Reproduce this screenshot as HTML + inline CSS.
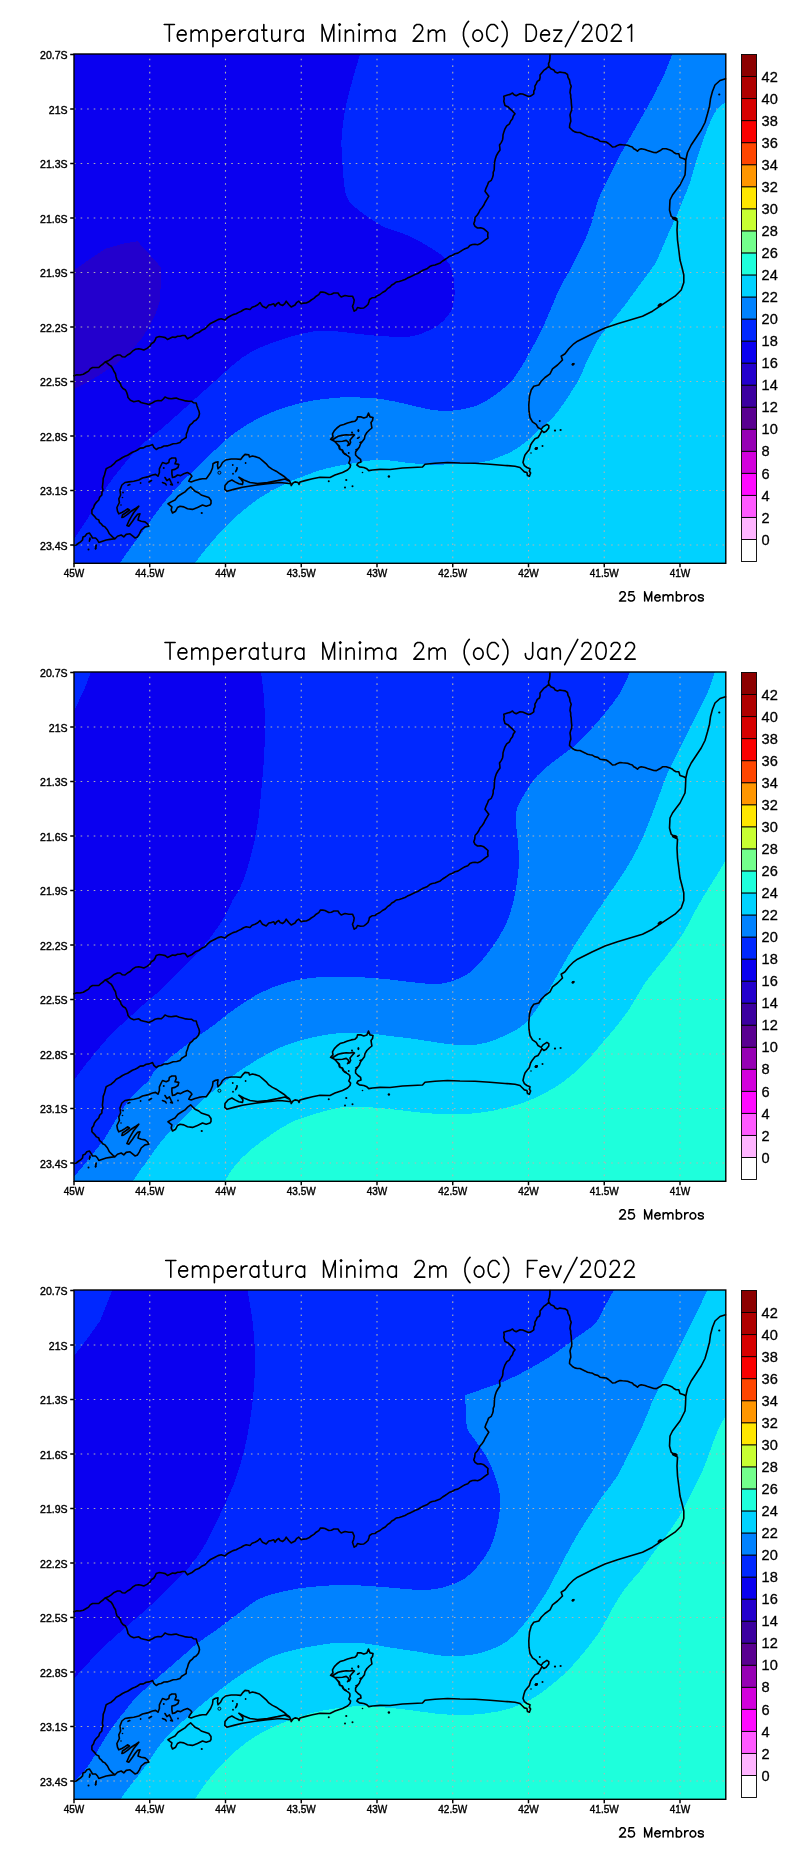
<!DOCTYPE html>
<html><head><meta charset="utf-8"><title>Temperatura Minima 2m</title>
<style>
html,body{margin:0;padding:0;background:#fff;}
body{width:800px;height:1854px;overflow:hidden;font-family:"Liberation Sans",sans-serif;}
svg{display:block;}
text{font-family:"Liberation Sans",sans-serif;fill:#000;}
.tx{filter:grayscale(1);}
.al{font-size:11px;stroke:#000;stroke-width:0.42px;}
.cl{font-size:14.6px;stroke:#000;stroke-width:0.3px;}
</style></head><body>
<svg width="800" height="1854" viewBox="0 0 800 1854"><defs><g id="map"><path d="M74.0 375.8 L76.9 374.8 L80.0 375.0 L83.3 374.2 L86.2 372.5 L88.6 371.1 L90.2 368.9 L92.5 367.5 L95.6 367.5 L98.8 367.5 L100.8 365.6 L103.1 364.0 L105.0 362.0 L108.3 360.8 L111.2 358.8 L114.1 356.4 L117.5 355.0 L120.2 355.0 L122.4 356.8 L125.0 357.0 L127.4 355.0 L130.2 353.5 L132.5 351.2 L135.3 349.3 L138.8 348.8 L141.3 349.3 L143.8 350.0 L147.0 348.4 L150.0 346.2 L151.2 343.8 L153.7 342.3 L155.2 340.0 L156.2 337.5 L159.3 336.5 L162.5 337.0 L165.3 337.6 L167.5 339.5 L170.0 338.3 L172.5 337.0 L175.1 337.4 L177.5 336.3 L180.0 336.2 L182.4 335.5 L185.0 335.5 L187.5 338.8 L189.9 337.4 L192.5 336.2 L195.3 333.8 L198.8 332.5 L201.7 330.3 L205.0 328.8 L207.4 326.2 L210.0 323.8 L212.5 322.5 L215.0 321.2 L218.0 319.6 L221.2 318.8 L225.0 320.0 L227.3 317.8 L230.0 316.2 L233.0 314.6 L236.2 313.8 L238.7 312.4 L241.2 311.2 L243.6 309.7 L246.2 308.8 L250.0 309.5 L252.1 307.3 L255.0 306.2 L257.8 304.8 L260.0 302.5 L261.2 304.4 L262.5 306.2 L266.2 308.0 L268.8 305.0 L271.3 304.6 L273.8 303.8 L275.0 306.2 L276.5 304.0 L278.8 302.5 L280.2 304.6 L282.5 305.5 L284.8 303.7 L286.2 301.2 L288.8 304.5 L291.2 307.0 L295.0 305.0 L296.5 302.7 L298.8 301.2 L301.2 303.8 L303.7 303.1 L306.2 303.0 L308.9 301.8 L311.2 300.0 L313.9 298.4 L316.2 296.2 L318.8 294.6 L320.5 292.0 L322.8 292.1 L325.0 292.5 L328.8 294.5 L331.4 294.2 L333.8 293.0 L338.0 293.0 L339.4 295.2 L341.2 297.0 L345.0 295.5 L348.8 296.2 L352.5 296.2 L354.2 300.0 L353.7 303.2 L352.5 306.2 L353.3 308.8 L354.2 311.2 L356.3 309.8 L357.5 307.5 L360.6 308.3 L363.8 308.0 L365.9 306.3 L368.0 304.5 L368.9 302.0 L369.5 299.5 L372.0 297.8 L375.0 297.5 L377.3 295.7 L380.0 294.5 L382.5 292.5 L385.3 291.0 L387.4 288.7 L390.0 287.0 L391.8 285.0 L394.2 283.7 L396.2 282.0 L399.3 281.5 L402.2 280.6 L405.0 279.5 L407.4 278.1 L410.0 276.9 L412.5 275.8 L415.0 274.5 L417.7 273.6 L420.0 272.0 L422.4 270.6 L425.0 269.5 L427.5 268.4 L429.7 266.6 L432.2 265.5 L435.0 265.0 L437.6 263.9 L440.3 262.9 L442.6 261.0 L445.0 259.5 L447.4 257.9 L449.8 256.2 L452.5 255.2 L455.0 253.8 L457.8 253.1 L460.2 251.6 L462.5 250.1 L465.0 248.8 L467.8 247.8 L469.8 245.6 L472.5 244.5 L475.0 244.3 L477.6 244.7 L480.0 243.8 L482.7 241.9 L485.3 239.9 L488.0 238.0 L487.7 235.2 L488.0 232.5 L485.9 230.6 L483.8 228.8 L480.7 227.7 L477.5 228.0 L475.1 226.4 L473.8 223.8 L474.8 220.7 L475.0 217.5 L477.1 215.3 L478.8 212.8 L480.0 210.0 L482.0 207.7 L483.7 205.3 L485.0 202.5 L486.9 199.4 L488.8 196.2 L486.9 193.7 L485.0 191.2 L486.1 188.1 L487.5 185.0 L488.6 182.1 L491.3 180.3 L492.5 177.5 L493.2 175.0 L493.2 172.4 L494.2 170.0 L494.3 167.5 L494.4 165.0 L494.5 162.5 L495.2 159.3 L496.2 156.2 L497.9 153.0 L500.0 150.0 L499.8 147.5 L499.5 145.0 L501.2 142.6 L502.5 140.0 L502.9 137.5 L503.0 135.0 L503.9 131.9 L505.0 128.8 L506.7 125.8 L509.5 123.8 L510.7 121.0 L512.5 118.8 L513.3 116.0 L515.0 113.8 L512.6 111.2 L510.0 108.8 L507.8 106.7 L505.0 105.5 L503.8 101.2 L504.2 98.8 L503.8 96.2 L507.5 95.0 L510.2 94.4 L512.5 93.0 L514.1 94.8 L516.2 95.8 L520.0 93.8 L522.6 94.0 L525.0 95.0 L527.4 96.1 L530.0 96.2 L532.0 95.2 L533.8 93.8 L533.8 91.1 L535.0 88.8 L534.9 86.1 L536.2 83.8 L537.3 81.4 L539.5 80.0 L540.1 77.5 L540.0 75.0 L542.5 72.0 L544.1 70.1 L546.2 68.8 L548.8 66.2 L548.5 63.7 L549.5 61.2 L549.9 57.9 L550.0 54.5 M548.8 66.2 L550.8 68.7 L553.8 70.0 L555.2 72.0 L557.5 73.0 L559.9 72.1 L562.5 72.5 L565.2 72.9 L567.5 74.5 L568.0 77.4 L569.5 80.0 L570.0 83.2 L571.2 86.2 L570.4 89.3 L570.0 92.5 L570.7 95.0 L570.7 97.5 L571.2 100.0 L571.3 102.5 L571.5 105.0 L571.8 107.5 L571.7 110.1 L570.7 112.5 L570.0 115.0 L570.5 118.1 L570.8 121.2 L569.8 124.3 L569.5 127.5 L572.5 130.5 L574.8 131.9 L577.3 132.5 L580.0 132.5 L582.5 133.8 L585.0 134.9 L587.5 136.2 L590.1 136.8 L592.7 137.3 L595.0 138.8 L597.8 139.4 L600.0 141.2 L603.1 141.6 L606.2 142.0 L608.5 143.5 L610.5 145.2 L612.5 147.0 L615.2 146.7 L617.5 145.4 L620.0 144.5 L622.5 144.8 L625.0 145.0 L627.6 145.2 L630.0 146.2 L632.3 146.9 L633.8 148.8 L635.8 149.8 L637.5 151.2 L639.1 149.5 L641.2 148.8 L645.0 149.5 L647.5 150.4 L650.0 151.2 L653.8 152.5 L656.4 152.6 L658.8 151.2 L660.8 150.2 L662.5 148.8 L666.2 148.8 L670.0 150.0 L672.1 150.9 L673.8 152.5 L676.1 153.7 L678.8 153.8 L680.0 157.5 L683.8 158.8 L685.8 160.0 M725.5 78.8 L720.0 80.5 L715.0 85.0 L712.5 91.2 L710.5 98.8 L709.5 106.2 L707.5 113.8 L705.0 122.5 L701.2 130.0 L696.2 137.5 L691.2 145.0 L687.5 152.5 L685.8 160.0 L685.5 168.8 L685.0 175.0 L682.5 180.0 L680.0 185.0 L676.2 190.0 L672.5 195.0 L670.0 200.0 L669.5 210.0 L671.2 216.2 L675.0 219.5 L677.5 221.2 L677.0 230.0 L677.5 240.0 L678.8 250.0 L680.0 260.0 L682.0 267.5 L683.8 275.0 L683.8 282.5 L681.2 290.0 L675.0 296.2 L667.5 301.2 L660.0 306.2 L652.5 311.2 L642.5 316.2 L630.0 320.0 L617.5 323.8 L605.0 328.0 L592.5 333.8 L582.5 338.8 L577.5 341.2 L573.8 343.8 L568.8 348.8 L565.0 353.8 L561.2 356.2 L562.5 360.0 L557.5 365.0 L552.5 368.8 L550.0 373.8 L545.0 377.5 L541.2 381.2 L538.8 385.0 L533.8 386.2 L531.2 390.0 L529.5 396.2 L528.8 405.0 L529.0 411.2 L530.0 417.5 L532.5 421.9 L536.2 424.4 L538.0 427.5 L541.2 429.4 L543.0 426.9 L546.9 424.4 L548.8 425.6 L548.8 428.0 L546.2 431.2 L543.8 432.5 L541.9 430.6 L540.0 434.4 L538.0 437.5 L535.0 438.8 L532.5 441.9 L530.6 445.0 L529.4 449.4 L526.9 452.5 L525.0 455.0 L523.8 458.8 L523.0 462.5 L524.4 465.6 L526.9 467.5 L530.0 468.8 L529.4 471.2 L530.6 473.0 L529.4 476.2 L527.5 475.6 L526.9 472.5 L524.4 471.9 L522.5 470.0 L520.0 467.5 L515.0 466.2 L507.5 465.6 L505.0 465.5 L490.0 464.2 L475.0 463.2 L460.0 463.0 L447.5 462.5 L435.0 463.2 L425.0 464.2 L422.5 467.0 L412.5 467.5 L402.5 468.0 L390.0 469.5 L380.0 469.4 L372.5 470.0 L368.8 470.6 L366.9 468.8 L363.8 467.5 L359.4 466.9 L356.9 465.0 L358.0 463.0 L361.0 461.9 L360.6 459.4 L358.0 457.5 L355.6 455.0 L355.6 451.9 L357.5 449.4 L359.4 446.9 L360.6 443.8 L362.5 441.2 L364.4 438.8 L365.0 435.6 L366.9 432.5 L369.4 430.0 L371.9 428.0 L371.5 425.6 L371.0 422.5 L372.5 420.6 L373.0 417.5 L370.0 416.9 L368.5 413.0 L366.9 416.9 L363.8 418.0 L361.2 416.9 L357.5 416.9 L356.9 419.4 L355.0 421.2 L351.2 421.9 L347.5 423.0 L343.8 424.4 L340.0 425.6 L336.9 428.0 L334.4 430.6 L332.5 433.8 L333.0 436.9 L330.6 439.4 L334.4 441.2 L336.9 443.8 L338.8 446.2 L339.4 448.8 L341.9 450.0 L343.0 452.5 L345.0 454.4 L347.5 455.6 L349.8 457.5 L350.0 460.0 L348.8 463.0 L350.6 465.0 L350.0 467.5 L347.5 470.0 L342.5 472.5 L335.0 475.0 L330.0 477.5 L320.0 477.2 L312.5 478.8 L305.0 480.6 L300.0 481.9 L299.0 484.4 L298.0 482.5 L295.0 481.9 L293.0 483.0 L291.2 485.6 L290.6 483.0 L289.4 480.6 L286.9 478.8 L283.8 476.2 L280.0 473.8 L276.2 471.2 L272.5 469.4 L268.8 466.9 L266.2 463.8 L262.5 460.6 L259.4 458.0 L256.2 456.9 L252.5 456.0 L249.4 456.9 L248.8 454.8 L245.0 454.4 L242.5 456.9 L240.6 459.4 L236.2 459.0 L231.2 459.0 L225.6 460.0 L222.5 462.5 L220.6 466.2 L218.0 468.8 L217.5 465.6 L218.0 461.9 L215.6 462.2 L213.0 463.8 L212.5 468.0 L210.6 472.5 L207.5 477.0 L206.2 478.8 L202.5 478.8 L198.8 479.4 L195.0 480.6 L191.2 481.9 L188.8 481.2 L190.0 478.8 L191.9 476.2 L190.6 474.4 L187.5 472.5 L183.8 473.8 L180.6 475.6 L177.5 475.0 L175.0 476.9 L172.5 477.5 L171.9 473.8 L171.9 470.0 L175.0 469.4 L178.0 467.5 L178.8 464.4 L175.0 463.8 L176.2 460.6 L175.6 458.0 L171.9 458.0 L169.4 459.4 L168.8 462.5 L166.2 463.8 L162.5 462.5 L161.2 465.0 L159.4 468.8 L159.4 472.5 L158.0 476.2 L155.6 474.4 L152.5 475.0 L147.5 476.9 L142.5 478.0 L138.8 480.0 L133.8 481.2 L128.8 481.9 L125.0 482.5 L121.9 485.0 L120.0 490.0 L120.6 495.0 L118.8 498.8 L119.4 502.5 L116.9 507.5 L117.5 511.2 L118.8 513.8 L121.9 512.5 L125.0 510.6 L127.5 508.8 L129.4 510.0 L126.2 512.5 L122.5 515.0 L121.9 517.5 L123.8 516.9 L127.5 514.4 L131.2 511.2 L135.0 508.8 L138.8 506.2 L136.9 508.8 L133.8 512.5 L131.2 516.9 L128.8 521.2 L126.9 525.6 L128.8 526.2 L132.5 521.2 L135.0 517.5 L137.5 514.4 L140.0 513.8 L138.8 516.9 L138.0 520.0 L141.2 521.2 L145.0 521.9 L147.5 523.8 L148.8 526.2 L145.0 526.9 L141.2 530.0 L139.4 533.8 L137.5 536.9 L135.0 538.0 L133.8 536.9 L130.0 533.8 L126.2 534.4 L123.8 536.9 L121.2 535.0 L117.5 536.2 L115.0 538.8 L110.0 539.4 L106.2 540.0 L102.5 541.2 L98.8 542.5 L97.5 540.0 L95.6 538.0 L92.5 538.0 L91.2 535.6 L89.4 533.0 L86.9 533.8 L85.0 536.2 L83.0 536.9 L82.5 540.0 L80.6 541.9 L78.8 543.0 L76.2 545.0 L74.0 545.6 M105.0 362.0 L107.3 363.1 L109.1 364.9 L111.2 366.2 L112.8 368.7 L113.9 371.3 L115.5 373.8 L116.1 376.9 L117.0 380.0 L119.0 381.7 L120.4 383.8 L121.2 386.2 L123.0 388.5 L125.5 390.0 L126.7 392.4 L127.5 394.9 L128.0 397.5 L130.4 400.2 L133.8 401.8 L136.2 401.2 L138.8 400.8 L141.0 402.5 L143.8 403.2 L146.3 403.8 L148.8 404.5 L152.0 403.1 L155.0 401.2 L158.1 400.5 L161.2 400.8 L163.3 399.0 L165.0 397.0 L168.0 398.4 L171.2 398.8 L173.8 398.4 L176.2 398.0 L179.3 399.3 L182.5 400.0 L185.6 400.9 L188.8 401.2 L191.4 401.2 L193.7 402.8 L196.2 403.0 L197.0 405.9 L198.0 408.8 L199.0 411.2 L199.5 413.8 L198.5 417.2 L196.2 420.0 L193.8 421.2 L192.1 423.4 L190.0 425.0 L188.4 428.0 L187.5 431.2 L186.3 434.3 L186.2 437.5 L184.0 438.9 L181.7 440.3 L180.0 442.5 L176.7 443.5 L173.2 443.7 L170.0 445.0 L167.1 445.9 L164.0 446.0 L161.2 447.5 L158.5 448.0 L156.2 449.5 L153.9 447.4 L152.5 444.5 L149.5 445.9 L146.2 446.2 L143.5 447.9 L140.1 448.1 L137.5 450.0 L135.0 451.3 L132.4 452.3 L130.0 453.8 L127.6 455.3 L125.0 456.2 L122.5 457.5 L119.5 459.5 L116.2 461.2 L113.9 463.9 L111.2 466.2 L108.7 467.4 L106.2 468.8 L105.3 471.8 L104.5 475.0 L103.2 478.4 L103.0 482.0 L102.7 484.7 L102.4 487.3 L103.0 490.0 L101.9 492.4 L101.9 495.0 L99.7 497.1 L98.8 500.0 L96.4 502.3 L94.4 505.0 L93.6 507.7 L91.9 510.0 L91.9 513.8 L95.0 516.9 L96.5 518.9 L98.8 520.0 L99.4 522.3 L101.2 523.8 L102.7 525.8 L105.0 526.9 L107.5 530.0 L109.4 533.8 L112.5 536.9 L115.0 538.8 M168.0 503.8 L171.2 501.9 L175.0 500.0 L178.0 496.2 L181.9 493.8 L185.0 491.9 L188.0 488.8 L190.6 486.9 L192.5 488.8 L195.0 491.2 L198.8 493.0 L201.2 495.0 L205.0 496.2 L208.8 497.5 L211.0 500.5 L211.0 503.5 L210.0 505.0 L206.2 506.2 L202.5 505.0 L197.5 507.5 L192.5 509.4 L187.5 508.8 L183.8 506.9 L180.0 506.2 L177.5 507.5 L175.6 511.2 L172.5 513.0 L171.2 510.0 L171.9 506.9 L168.0 503.8 M291.2 483.8 L280.0 482.5 L267.5 483.8 L255.0 485.2 L242.5 487.2 L233.8 489.4 L226.9 491.2 L224.8 489.4 L225.0 485.6 L228.0 481.9 L231.9 480.0 L235.0 481.9 L238.8 483.8 L242.5 484.4 L243.0 481.9 L240.6 478.8 L238.8 477.2 L243.8 480.0 L250.0 482.5 L257.5 483.5 L267.5 482.5 L277.5 480.6 L285.0 479.0 L289.0 481.0 M334.4 438.5 L338.1 436.2 L341.9 435.4 L346.2 434.8 L350.0 435.0 L353.1 434.4 L354.4 435.0 L351.9 437.8 L350.0 440.0 L350.6 442.5 L349.4 444.8 L347.5 445.6 L348.8 443.8 L348.1 441.9 L346.2 440.4 L342.5 441.2 L338.8 441.5 L334.4 441.2 L332.5 440.0 L334.4 438.5 M336.9 443.8 L339.4 446.2 L340.0 449.4 L342.5 450.0 L343.8 453.0 L346.2 454.4 M165.0 477.5 L166.9 480.6 L169.4 478.8 L171.2 482.5 L172.5 485.0 L170.6 484.4 M162.5 482.5 L165.6 483.8 L166.2 485.0 M149.0 482.0 L151.5 480.5 M128.0 485.3 L129.8 484.6 M90.0 538.0 L89.4 541.2 M96.2 545.0 L95.6 549.0" fill="none" stroke="#000" stroke-width="1.6" stroke-linejoin="round" stroke-linecap="round"/><g fill="#000"><circle cx="88.5" cy="549.4" r="1.0"/><circle cx="95.6" cy="548.2" r="1.0"/><circle cx="95.9" cy="546" r="0.8"/><circle cx="90" cy="539.5" r="0.8"/><circle cx="201.75" cy="513" r="1.1"/><circle cx="233" cy="473.75" r="0.9"/><circle cx="232.75" cy="465" r="0.9"/><circle cx="245.6" cy="463" r="0.9"/><circle cx="237" cy="468" r="1.0"/><circle cx="328.75" cy="481.25" r="1.0"/><circle cx="346.25" cy="480" r="1.1"/><circle cx="345" cy="487.5" r="1.0"/><circle cx="352.5" cy="486.25" r="1.0"/><circle cx="388.9" cy="476.5" r="1.2"/><circle cx="362.5" cy="472.5" r="0.8"/><circle cx="555" cy="430.6" r="1.1"/><circle cx="560.6" cy="430" r="1.1"/><circle cx="536.25" cy="448.5" r="1.5"/><circle cx="542.5" cy="446" r="1.0"/><circle cx="539.75" cy="421" r="1.0"/><circle cx="531" cy="453" r="0.8"/><circle cx="573" cy="364.25" r="1.3"/><circle cx="719.25" cy="94.5" r="1.1"/><circle cx="348.75" cy="453" r="0.9"/><circle cx="352" cy="432.5" r="1.0"/><circle cx="163.75" cy="468" r="1.0"/><circle cx="140.6" cy="483" r="0.9"/><circle cx="123" cy="492.5" r="0.9"/><circle cx="178" cy="482.5" r="0.9"/><circle cx="122.5" cy="497.5" r="0.8"/><circle cx="121" cy="505" r="0.8"/><ellipse cx="358.4" cy="430.6" rx="1.0" ry="1.7" transform="rotate(0 358.4 430.6)"/><ellipse cx="358.4" cy="437.8" rx="1.9" ry="0.9" transform="rotate(-30 358.4 437.8)"/><ellipse cx="360.6" cy="442.2" rx="1.5" ry="0.8" transform="rotate(-15 360.6 442.2)"/><ellipse cx="356.6" cy="449.4" rx="1.7" ry="0.8" transform="rotate(-20 356.6 449.4)"/><ellipse cx="236.3" cy="470.4" rx="2.3" ry="1.0" transform="rotate(-62 236.3 470.4)"/><ellipse cx="674.8" cy="218.6" rx="3.0" ry="1.7" transform="rotate(15 674.8 218.6)"/><ellipse cx="659.8" cy="305.0" rx="2.6" ry="1.5" transform="rotate(-35 659.8 305.0)"/><ellipse cx="573.2" cy="364.2" rx="1.8" ry="1.0" transform="rotate(-35 573.2 364.2)"/><ellipse cx="536.3" cy="448.4" rx="1.9" ry="1.2" transform="rotate(-25 536.3 448.4)"/></g><circle cx="219.4" cy="472.75" r="1.5" fill="none" stroke="#000" stroke-width="0.9"/></g><g id="grid"><path d="M149.75 563.3V54.0 M225.50 563.3V54.0 M301.25 563.3V54.0 M377.00 563.3V54.0 M452.75 563.3V54.0 M528.50 563.3V54.0 M604.25 563.3V54.0 M680.00 563.3V54.0" fill="none" stroke="#b6b4b0" stroke-opacity="0.95" stroke-dasharray="1.6 4.95" stroke-width="1.1" stroke-dashoffset="-5.16"/><path d="M74.0 109.04H725.8 M74.0 163.53H725.8 M74.0 218.02H725.8 M74.0 272.51H725.8 M74.0 327.00H725.8 M74.0 381.49H725.8 M74.0 435.98H725.8 M74.0 490.47H725.8 M74.0 544.96H725.8" fill="none" stroke="#b6b4b0" stroke-opacity="0.95" stroke-dasharray="1.6 4.95" stroke-width="1.1" stroke-dashoffset="-0.05"/></g><g id="axes"><rect x="74.0" y="54.0" width="651.8" height="509.29999999999995" fill="none" stroke="#000" stroke-width="1.4"/><path d="M74.00 563.3v4 M149.75 563.3v4 M225.50 563.3v4 M301.25 563.3v4 M377.00 563.3v4 M452.75 563.3v4 M528.50 563.3v4 M604.25 563.3v4 M680.00 563.3v4 M74.0 54.55h-3.8 M74.0 109.04h-3.8 M74.0 163.53h-3.8 M74.0 218.02h-3.8 M74.0 272.51h-3.8 M74.0 327.00h-3.8 M74.0 381.49h-3.8 M74.0 435.98h-3.8 M74.0 490.47h-3.8 M74.0 544.96h-3.8" stroke="#000" stroke-width="1.45" fill="none"/><g class="tx"><text transform="translate(74.00,577.1) scale(0.91,1)" text-anchor="middle" class="al">45W</text><text transform="translate(149.75,577.1) scale(0.91,1)" text-anchor="middle" class="al">44.5W</text><text transform="translate(225.50,577.1) scale(0.91,1)" text-anchor="middle" class="al">44W</text><text transform="translate(301.25,577.1) scale(0.91,1)" text-anchor="middle" class="al">43.5W</text><text transform="translate(377.00,577.1) scale(0.91,1)" text-anchor="middle" class="al">43W</text><text transform="translate(452.75,577.1) scale(0.91,1)" text-anchor="middle" class="al">42.5W</text><text transform="translate(528.50,577.1) scale(0.91,1)" text-anchor="middle" class="al">42W</text><text transform="translate(604.25,577.1) scale(0.91,1)" text-anchor="middle" class="al">41.5W</text><text transform="translate(680.00,577.1) scale(0.91,1)" text-anchor="middle" class="al">41W</text><text transform="translate(67.6,59.15) scale(0.96,1)" text-anchor="end" class="al">20.7S</text><text transform="translate(67.6,113.64) scale(0.96,1)" text-anchor="end" class="al">21S</text><text transform="translate(67.6,168.13) scale(0.96,1)" text-anchor="end" class="al">21.3S</text><text transform="translate(67.6,222.62) scale(0.96,1)" text-anchor="end" class="al">21.6S</text><text transform="translate(67.6,277.11) scale(0.96,1)" text-anchor="end" class="al">21.9S</text><text transform="translate(67.6,331.60) scale(0.96,1)" text-anchor="end" class="al">22.2S</text><text transform="translate(67.6,386.09) scale(0.96,1)" text-anchor="end" class="al">22.5S</text><text transform="translate(67.6,440.58) scale(0.96,1)" text-anchor="end" class="al">22.8S</text><text transform="translate(67.6,495.07) scale(0.96,1)" text-anchor="end" class="al">23.1S</text><text transform="translate(67.6,549.56) scale(0.96,1)" text-anchor="end" class="al">23.4S</text></g></g><g id="cbar"><rect x="741.5" y="539.46" width="15.0" height="22.04" fill="#ffffff" stroke="#000" stroke-width="0.9"/><rect x="741.5" y="517.41" width="15.0" height="22.04" fill="#ffb4ff" stroke="#000" stroke-width="0.9"/><rect x="741.5" y="495.37" width="15.0" height="22.04" fill="#ff5aff" stroke="#000" stroke-width="0.9"/><rect x="741.5" y="473.33" width="15.0" height="22.04" fill="#ff0aff" stroke="#000" stroke-width="0.9"/><rect x="741.5" y="451.28" width="15.0" height="22.04" fill="#d200dc" stroke="#000" stroke-width="0.9"/><rect x="741.5" y="429.24" width="15.0" height="22.04" fill="#9600b4" stroke="#000" stroke-width="0.9"/><rect x="741.5" y="407.20" width="15.0" height="22.04" fill="#5a0091" stroke="#000" stroke-width="0.9"/><rect x="741.5" y="385.15" width="15.0" height="22.04" fill="#3c00a0" stroke="#000" stroke-width="0.9"/><rect x="741.5" y="363.11" width="15.0" height="22.04" fill="#2300cd" stroke="#000" stroke-width="0.9"/><rect x="741.5" y="341.07" width="15.0" height="22.04" fill="#0a00f0" stroke="#000" stroke-width="0.9"/><rect x="741.5" y="319.02" width="15.0" height="22.04" fill="#0028ff" stroke="#000" stroke-width="0.9"/><rect x="741.5" y="296.98" width="15.0" height="22.04" fill="#0082ff" stroke="#000" stroke-width="0.9"/><rect x="741.5" y="274.93" width="15.0" height="22.04" fill="#00d2ff" stroke="#000" stroke-width="0.9"/><rect x="741.5" y="252.89" width="15.0" height="22.04" fill="#1effdc" stroke="#000" stroke-width="0.9"/><rect x="741.5" y="230.85" width="15.0" height="22.04" fill="#73ff8c" stroke="#000" stroke-width="0.9"/><rect x="741.5" y="208.80" width="15.0" height="22.04" fill="#c8ff32" stroke="#000" stroke-width="0.9"/><rect x="741.5" y="186.76" width="15.0" height="22.04" fill="#ffe600" stroke="#000" stroke-width="0.9"/><rect x="741.5" y="164.72" width="15.0" height="22.04" fill="#ff9600" stroke="#000" stroke-width="0.9"/><rect x="741.5" y="142.67" width="15.0" height="22.04" fill="#ff4600" stroke="#000" stroke-width="0.9"/><rect x="741.5" y="120.63" width="15.0" height="22.04" fill="#fa0000" stroke="#000" stroke-width="0.9"/><rect x="741.5" y="98.59" width="15.0" height="22.04" fill="#d70000" stroke="#000" stroke-width="0.9"/><rect x="741.5" y="76.54" width="15.0" height="22.04" fill="#af0000" stroke="#000" stroke-width="0.9"/><rect x="741.5" y="54.50" width="15.0" height="22.04" fill="#8c0000" stroke="#000" stroke-width="0.9"/><g class="tx"><text x="761.6" y="544.66" class="cl">0</text><text x="761.6" y="522.61" class="cl">2</text><text x="761.6" y="500.57" class="cl">4</text><text x="761.6" y="478.53" class="cl">6</text><text x="761.6" y="456.48" class="cl">8</text><text x="761.6" y="434.44" class="cl">10</text><text x="761.6" y="412.40" class="cl">12</text><text x="761.6" y="390.35" class="cl">14</text><text x="761.6" y="368.31" class="cl">16</text><text x="761.6" y="346.27" class="cl">18</text><text x="761.6" y="324.22" class="cl">20</text><text x="761.6" y="302.18" class="cl">22</text><text x="761.6" y="280.13" class="cl">24</text><text x="761.6" y="258.09" class="cl">26</text><text x="761.6" y="236.05" class="cl">28</text><text x="761.6" y="214.00" class="cl">30</text><text x="761.6" y="191.96" class="cl">32</text><text x="761.6" y="169.92" class="cl">34</text><text x="761.6" y="147.87" class="cl">36</text><text x="761.6" y="125.83" class="cl">38</text><text x="761.6" y="103.79" class="cl">40</text><text x="761.6" y="81.74" class="cl">42</text></g></g></defs><g transform="translate(0,0)"><rect x="74.0" y="54.0" width="651.8" height="509.29999999999995" fill="#0a00f0"/><path d="M74.0 270.0 L85.0 262.5 L105.0 248.8 L122.5 243.8 L137.5 241.2 L150.0 255.0 L161.2 267.5 L160.8 282.5 L160.0 300.0 L156.2 312.5 L150.0 325.0 L142.5 337.5 L130.0 352.5 L115.0 365.0 L97.5 376.2 L85.0 383.8 L74.0 388.8  Z" fill="#2300cd" shape-rendering="crispEdges"/><path d="M360.0 54.0 C358.8 58.3 355.0 70.7 352.5 80.0 C350.0 89.3 346.8 100.0 345.0 110.0 C343.2 120.0 341.9 130.8 341.5 140.0 C341.1 149.2 342.1 158.3 342.5 165.0 C342.9 171.7 343.2 175.4 343.8 180.0 C344.2 184.6 344.5 188.8 345.5 192.5 C346.5 196.2 347.6 199.4 350.0 202.5 C352.4 205.6 356.2 208.3 360.0 211.2 C363.8 214.2 368.3 217.3 372.5 220.0 C376.7 222.7 380.4 225.4 385.0 227.5 C389.6 229.6 395.0 230.6 400.0 232.5 C405.0 234.4 410.0 236.2 415.0 238.8 C420.0 241.2 425.6 244.8 430.0 247.5 C434.4 250.2 437.9 252.1 441.2 255.0 C444.6 257.9 447.9 260.8 450.0 265.0 C452.1 269.2 453.0 275.0 453.8 280.0 C454.5 285.0 454.7 290.4 454.5 295.0 C454.3 299.6 453.7 304.0 452.5 307.5 C451.3 311.0 449.6 313.5 447.5 316.2 C445.4 319.0 442.9 321.5 440.0 323.8 C437.1 326.0 435.0 327.9 430.0 330.0 C425.0 332.1 418.3 335.5 410.0 336.5 C401.7 337.5 389.2 336.5 380.0 336.0 C370.8 335.5 362.5 334.3 355.0 333.5 C347.5 332.7 340.8 331.7 335.0 331.2 C329.2 330.8 325.0 330.5 320.0 330.8 C315.0 331.0 309.6 332.1 305.0 333.0 C300.4 333.9 296.7 335.1 292.5 336.2 C288.3 337.4 284.2 338.6 280.0 340.0 C275.8 341.4 271.7 342.8 267.5 344.5 C263.3 346.2 259.2 347.8 255.0 350.0 C250.8 352.2 246.7 354.6 242.5 357.5 C238.3 360.4 234.2 364.0 230.0 367.5 C225.8 371.0 221.7 375.0 217.5 378.8 C213.3 382.5 209.0 386.5 205.0 390.0 C201.0 393.5 197.9 396.2 193.8 400.0 C189.6 403.8 185.6 407.5 180.0 412.5 C174.4 417.5 166.7 424.4 160.0 430.0 C153.3 435.6 146.2 440.0 140.0 446.0 C133.8 452.0 127.8 459.5 122.5 466.0 C117.2 472.5 112.2 478.9 108.0 485.0 C103.8 491.1 101.3 496.2 97.5 502.5 C93.7 508.8 88.9 516.5 85.0 522.5 C81.1 528.5 75.8 536.0 74.0 538.8 L74.0 563.3 L725.8 563.3 L725.8 54.0 Z" fill="#0028ff" shape-rendering="crispEdges"/><path d="M672.5 54.0 C671.2 57.1 667.5 66.9 665.0 72.5 C662.5 78.1 660.0 82.5 657.5 87.5 C655.0 92.5 652.9 97.1 650.0 102.5 C647.1 107.9 643.3 114.2 640.0 120.0 C636.7 125.8 633.3 131.7 630.0 137.5 C626.7 143.3 622.9 149.6 620.0 155.0 C617.1 160.4 615.0 165.0 612.5 170.0 C610.0 175.0 607.4 180.0 605.0 185.0 C602.6 190.0 600.1 194.2 598.0 200.0 C595.9 205.8 594.7 213.3 592.5 220.0 C590.3 226.7 587.5 234.2 585.0 240.0 C582.5 245.8 580.0 250.0 577.5 255.0 C575.0 260.0 572.9 264.6 570.0 270.0 C567.1 275.4 562.9 281.7 560.0 287.5 C557.1 293.3 555.0 299.2 552.5 305.0 C550.0 310.8 547.4 317.2 545.0 322.5 C542.6 327.8 540.3 332.4 538.0 337.0 C535.7 341.6 533.6 345.3 531.0 350.0 C528.4 354.7 525.6 360.0 522.5 365.0 C519.4 370.0 516.2 375.6 512.5 380.0 C508.8 384.4 504.2 387.9 500.0 391.2 C495.8 394.6 492.1 397.4 487.5 400.0 C482.9 402.6 478.8 405.2 472.5 407.0 C466.2 408.8 457.1 410.3 450.0 410.8 C442.9 411.2 437.5 410.7 430.0 409.5 C422.5 408.3 413.3 405.5 405.0 403.8 C396.7 402.0 387.5 399.8 380.0 398.8 C372.5 397.7 366.7 397.7 360.0 397.5 C353.3 397.3 348.3 396.9 340.0 397.5 C331.7 398.1 319.2 399.3 310.0 401.0 C300.8 402.7 293.3 404.8 285.0 407.5 C276.7 410.2 268.3 413.3 260.0 417.5 C251.7 421.7 242.5 427.1 235.0 432.5 C227.5 437.9 220.8 444.6 215.0 450.0 C209.2 455.4 205.0 460.2 200.0 465.0 C195.0 469.8 189.6 474.2 185.0 478.8 C180.4 483.3 176.7 487.7 172.5 492.5 C168.3 497.3 164.2 502.1 160.0 507.5 C155.8 512.9 152.1 518.8 147.5 525.0 C142.9 531.2 137.1 538.7 132.5 545.0 C127.9 551.3 122.1 560.0 120.0 563.0 L725.8 563.3 L725.8 54.0 Z" fill="#0082ff" shape-rendering="crispEdges"/><path d="M725.5 102.5 C724.6 103.1 721.8 104.6 720.0 106.2 C718.2 107.9 716.7 109.8 715.0 112.5 C713.3 115.2 711.7 118.8 710.0 122.5 C708.3 126.2 706.7 130.4 705.0 135.0 C703.3 139.6 701.7 145.0 700.0 150.0 C698.3 155.0 696.7 159.6 695.0 165.0 C693.3 170.4 692.0 176.7 690.0 182.5 C688.0 188.3 685.2 194.6 683.0 200.0 C680.8 205.4 679.2 210.0 677.0 215.0 C674.8 220.0 672.4 224.6 670.0 230.0 C667.6 235.4 665.0 241.9 662.5 247.5 C660.0 253.1 657.9 258.8 655.0 263.8 C652.1 268.8 648.3 272.9 645.0 277.5 C641.7 282.1 638.3 286.7 635.0 291.2 C631.7 295.8 628.3 300.6 625.0 305.0 C621.7 309.4 618.3 313.3 615.0 317.5 C611.7 321.7 607.9 326.2 605.0 330.0 C602.1 333.8 599.6 336.7 597.5 340.0 C595.4 343.3 594.4 346.2 592.5 350.0 C590.6 353.8 588.1 358.4 586.0 363.0 C583.9 367.6 582.2 373.0 580.0 377.5 C577.8 382.0 575.4 385.4 572.5 390.0 C569.6 394.6 565.4 400.8 562.5 405.0 C559.6 409.2 557.5 412.1 555.0 415.0 C552.5 417.9 550.4 419.8 547.5 422.5 C544.6 425.2 540.4 428.5 537.5 431.2 C534.6 434.0 532.9 436.2 530.0 438.8 C527.1 441.2 523.3 444.0 520.0 446.2 C516.7 448.5 513.3 450.8 510.0 452.5 C506.7 454.2 503.3 455.2 500.0 456.5 C496.7 457.8 494.2 459.4 490.0 460.5 C485.8 461.6 480.8 462.4 475.0 463.0 C469.2 463.6 462.5 464.0 455.0 464.2 C447.5 464.5 438.3 464.8 430.0 464.5 C421.7 464.2 411.7 463.2 405.0 462.5 C398.3 461.8 395.0 460.9 390.0 460.5 C385.0 460.1 381.7 459.5 375.0 460.0 C368.3 460.5 358.3 462.3 350.0 463.8 C341.7 465.2 333.3 466.5 325.0 468.8 C316.7 471.0 307.1 474.8 300.0 477.5 C292.9 480.2 288.8 481.9 282.5 485.0 C276.2 488.1 267.9 492.9 262.5 496.2 C257.1 499.6 254.6 501.5 250.0 505.0 C245.4 508.5 240.0 512.9 235.0 517.5 C230.0 522.1 225.0 527.1 220.0 532.5 C215.0 537.9 209.2 544.9 205.0 550.0 C200.8 555.1 196.7 560.8 195.0 563.0 L725.8 563.3 Z" fill="#00d2ff" shape-rendering="crispEdges"/><use href="#grid"/><use href="#map"/><use href="#axes"/><use href="#cbar"/><path d="M169.32 24.56 L169.32 41.15 M164.23 24.56 L174.41 24.56 M177.32 34.83 L186.04 34.83 L186.04 33.25 L185.32 31.67 L184.59 30.88 L183.14 30.09 L180.96 30.09 L179.50 30.88 L178.05 32.46 L177.32 34.83 L177.32 36.41 L178.05 38.78 L179.50 40.36 L180.96 41.15 L183.14 41.15 L184.59 40.36 L186.04 38.78 M191.13 30.09 L191.13 41.15 M191.13 33.25 L193.31 30.88 L194.77 30.09 L196.95 30.09 L198.40 30.88 L199.13 33.25 L199.13 41.15 M199.13 33.25 L201.31 30.88 L202.77 30.09 L204.95 30.09 L206.40 30.88 L207.13 33.25 L207.13 41.15 M212.94 30.09 L212.94 46.68 M212.94 32.46 L214.40 30.88 L215.85 30.09 L218.03 30.09 L219.49 30.88 L220.94 32.46 L221.67 34.83 L221.67 36.41 L220.94 38.78 L219.49 40.36 L218.03 41.15 L215.85 41.15 L214.40 40.36 L212.94 38.78 M226.03 34.83 L234.75 34.83 L234.75 33.25 L234.03 31.67 L233.30 30.88 L231.85 30.09 L229.66 30.09 L228.21 30.88 L226.76 32.46 L226.03 34.83 L226.03 36.41 L226.76 38.78 L228.21 40.36 L229.66 41.15 L231.85 41.15 L233.30 40.36 L234.75 38.78 M239.84 30.09 L239.84 41.15 M239.84 34.83 L240.57 32.46 L242.02 30.88 L243.48 30.09 L245.66 30.09 M257.29 30.09 L257.29 41.15 M257.29 32.46 L255.84 30.88 L254.38 30.09 L252.20 30.09 L250.75 30.88 L249.29 32.46 L248.57 34.83 L248.57 36.41 L249.29 38.78 L250.75 40.36 L252.20 41.15 L254.38 41.15 L255.84 40.36 L257.29 38.78 M263.83 24.56 L263.83 37.99 L264.56 40.36 L266.01 41.15 L267.47 41.15 M261.65 30.09 L266.74 30.09 M271.83 30.09 L271.83 37.99 L272.56 40.36 L274.01 41.15 L276.19 41.15 L277.65 40.36 L279.83 37.99 M279.83 30.09 L279.83 41.15 M285.64 30.09 L285.64 41.15 M285.64 34.83 L286.37 32.46 L287.82 30.88 L289.28 30.09 L291.46 30.09 M303.09 30.09 L303.09 41.15 M303.09 32.46 L301.64 30.88 L300.18 30.09 L298.00 30.09 L296.55 30.88 L295.09 32.46 L294.37 34.83 L294.37 36.41 L295.09 38.78 L296.55 40.36 L298.00 41.15 L300.18 41.15 L301.64 40.36 L303.09 38.78 M322.14 24.56 L322.14 41.15 M322.14 24.56 L327.95 41.15 M333.77 24.56 L327.95 41.15 M333.77 24.56 L333.77 41.15 M338.86 24.56 L339.59 25.35 L340.31 24.56 L339.59 23.77 L338.86 24.56 M339.59 30.09 L339.59 41.15 M345.40 30.09 L345.40 41.15 M345.40 33.25 L347.58 30.88 L349.04 30.09 L351.22 30.09 L352.67 30.88 L353.40 33.25 L353.40 41.15 M358.49 24.56 L359.22 25.35 L359.94 24.56 L359.22 23.77 L358.49 24.56 M359.22 30.09 L359.22 41.15 M365.03 30.09 L365.03 41.15 M365.03 33.25 L367.21 30.88 L368.67 30.09 L370.85 30.09 L372.30 30.88 L373.03 33.25 L373.03 41.15 M373.03 33.25 L375.21 30.88 L376.66 30.09 L378.84 30.09 L380.30 30.88 L381.03 33.25 L381.03 41.15 M394.84 30.09 L394.84 41.15 M394.84 32.46 L393.38 30.88 L391.93 30.09 L389.75 30.09 L388.30 30.88 L386.84 32.46 L386.11 34.83 L386.11 36.41 L386.84 38.78 L388.30 40.36 L389.75 41.15 L391.93 41.15 L393.38 40.36 L394.84 38.78 M413.89 28.51 L413.89 27.72 L414.61 26.14 L415.34 25.35 L416.79 24.56 L419.70 24.56 L421.16 25.35 L421.88 26.14 L422.61 27.72 L422.61 29.30 L421.88 30.88 L420.43 33.25 L413.16 41.15 L423.34 41.15 M428.43 30.09 L428.43 41.15 M428.43 33.25 L430.61 30.88 L432.06 30.09 L434.24 30.09 L435.70 30.88 L436.42 33.25 L436.42 41.15 M436.42 33.25 L438.60 30.88 L440.06 30.09 L442.24 30.09 L443.69 30.88 L444.42 33.25 L444.42 41.15 M468.56 21.40 L467.10 22.98 L465.65 25.35 L464.19 28.51 L463.47 32.46 L463.47 35.62 L464.19 39.57 L465.65 42.73 L467.10 45.10 L468.56 46.68 M476.55 30.09 L475.10 30.88 L473.65 32.46 L472.92 34.83 L472.92 36.41 L473.65 38.78 L475.10 40.36 L476.55 41.15 L478.73 41.15 L480.19 40.36 L481.64 38.78 L482.37 36.41 L482.37 34.83 L481.64 32.46 L480.19 30.88 L478.73 30.09 L476.55 30.09 M497.64 28.51 L496.91 26.93 L495.46 25.35 L494.00 24.56 L491.09 24.56 L489.64 25.35 L488.19 26.93 L487.46 28.51 L486.73 30.88 L486.73 34.83 L487.46 37.20 L488.19 38.78 L489.64 40.36 L491.09 41.15 L494.00 41.15 L495.46 40.36 L496.91 38.78 L497.64 37.20 M502.00 21.40 L503.45 22.98 L504.91 25.35 L506.36 28.51 L507.09 32.46 L507.09 35.62 L506.36 39.57 L504.91 42.73 L503.45 45.10 L502.00 46.68 M526.13 24.56 L526.13 41.15 M526.13 24.56 L531.22 24.56 L533.40 25.35 L534.86 26.93 L535.59 28.51 L536.31 30.88 L536.31 34.83 L535.59 37.20 L534.86 38.78 L533.40 40.36 L531.22 41.15 L526.13 41.15 M540.67 34.83 L549.40 34.83 L549.40 33.25 L548.67 31.67 L547.94 30.88 L546.49 30.09 L544.31 30.09 L542.86 30.88 L541.40 32.46 L540.67 34.83 L540.67 36.41 L541.40 38.78 L542.86 40.36 L544.31 41.15 L546.49 41.15 L547.94 40.36 L549.40 38.78 M561.76 30.09 L553.76 41.15 M553.76 30.09 L561.76 30.09 M553.76 41.15 L561.76 41.15 M578.48 21.40 L565.39 46.68 M582.84 28.51 L582.84 27.72 L583.57 26.14 L584.29 25.35 L585.75 24.56 L588.66 24.56 L590.11 25.35 L590.84 26.14 L591.56 27.72 L591.56 29.30 L590.84 30.88 L589.38 33.25 L582.11 41.15 L592.29 41.15 M601.02 24.56 L598.83 25.35 L597.38 27.72 L596.65 31.67 L596.65 34.04 L597.38 37.99 L598.83 40.36 L601.02 41.15 L602.47 41.15 L604.65 40.36 L606.10 37.99 L606.83 34.04 L606.83 31.67 L606.10 27.72 L604.65 25.35 L602.47 24.56 L601.02 24.56 M611.92 28.51 L611.92 27.72 L612.65 26.14 L613.37 25.35 L614.83 24.56 L617.74 24.56 L619.19 25.35 L619.92 26.14 L620.64 27.72 L620.64 29.30 L619.92 30.88 L618.46 33.25 L611.19 41.15 L621.37 41.15 M627.91 27.72 L629.37 26.93 L631.55 24.56 L631.55 41.15" fill="none" stroke="#000" stroke-width="1.6" stroke-linecap="round" stroke-linejoin="round"/><path d="M619.96 593.96 L619.96 593.52 L620.40 592.64 L620.84 592.20 L621.73 591.76 L623.49 591.76 L624.37 592.20 L624.81 592.64 L625.25 593.52 L625.25 594.40 L624.81 595.28 L623.93 596.60 L619.52 601.00 L625.69 601.00 M633.63 591.76 L629.22 591.76 L628.78 595.72 L629.22 595.28 L630.54 594.84 L631.86 594.84 L633.19 595.28 L634.07 596.16 L634.51 597.48 L634.51 598.36 L634.07 599.68 L633.19 600.56 L631.86 601.00 L630.54 601.00 L629.22 600.56 L628.78 600.12 L628.34 599.24 M644.65 591.76 L644.65 601.00 M644.65 591.76 L648.17 601.00 M651.70 591.76 L648.17 601.00 M651.70 591.76 L651.70 601.00 M654.79 597.48 L660.08 597.48 L660.08 596.60 L659.64 595.72 L659.19 595.28 L658.31 594.84 L656.99 594.84 L656.11 595.28 L655.23 596.16 L654.79 597.48 L654.79 598.36 L655.23 599.68 L656.11 600.56 L656.99 601.00 L658.31 601.00 L659.19 600.56 L660.08 599.68 M663.16 594.84 L663.16 601.00 M663.16 596.60 L664.48 595.28 L665.37 594.84 L666.69 594.84 L667.57 595.28 L668.01 596.60 L668.01 601.00 M668.01 596.60 L669.33 595.28 L670.21 594.84 L671.54 594.84 L672.42 595.28 L672.86 596.60 L672.86 601.00 M676.39 591.76 L676.39 601.00 M676.39 596.16 L677.27 595.28 L678.15 594.84 L679.47 594.84 L680.35 595.28 L681.23 596.16 L681.68 597.48 L681.68 598.36 L681.23 599.68 L680.35 600.56 L679.47 601.00 L678.15 601.00 L677.27 600.56 L676.39 599.68 M684.76 594.84 L684.76 601.00 M684.76 597.48 L685.20 596.16 L686.08 595.28 L686.96 594.84 L688.29 594.84 M692.25 594.84 L691.37 595.28 L690.49 596.16 L690.05 597.48 L690.05 598.36 L690.49 599.68 L691.37 600.56 L692.25 601.00 L693.58 601.00 L694.46 600.56 L695.34 599.68 L695.78 598.36 L695.78 597.48 L695.34 596.16 L694.46 595.28 L693.58 594.84 L692.25 594.84 M703.27 596.16 L702.83 595.28 L701.51 594.84 L700.19 594.84 L698.87 595.28 L698.43 596.16 L698.87 597.04 L699.75 597.48 L701.95 597.92 L702.83 598.36 L703.27 599.24 L703.27 599.68 L702.83 600.56 L701.51 601.00 L700.19 601.00 L698.87 600.56 L698.43 599.68" fill="none" stroke="#000" stroke-width="1.5" stroke-linecap="round" stroke-linejoin="round"/></g><g transform="translate(0,618)"><rect x="74.0" y="54.0" width="651.8" height="509.29999999999995" fill="#0a00f0"/><path d="M74.0 54.0 L91.0 54.0 L84.0 72.0 L74.0 93.0  Z" fill="#0028ff" shape-rendering="crispEdges"/><path d="M261.0 54.0 C261.5 58.3 263.3 70.7 264.0 80.0 C264.7 89.3 265.0 100.0 265.0 110.0 C265.0 120.0 264.6 130.0 264.0 140.0 C263.4 150.0 262.4 160.0 261.5 170.0 C260.6 180.0 259.8 190.8 258.5 200.0 C257.2 209.2 255.8 216.7 254.0 225.0 C252.2 233.3 249.8 242.5 247.5 250.0 C245.2 257.5 242.5 264.6 240.0 270.0 C237.5 275.4 235.2 277.5 232.5 282.5 C229.8 287.5 227.5 293.8 223.8 300.0 C220.0 306.2 214.8 313.8 210.0 320.0 C205.2 326.2 200.4 331.7 195.0 337.5 C189.6 343.3 183.3 349.2 177.5 355.0 C171.7 360.8 165.8 367.1 160.0 372.5 C154.2 377.9 147.9 382.7 142.5 387.5 C137.1 392.3 132.9 396.2 127.5 401.2 C122.1 406.2 116.1 411.0 110.0 417.5 C103.9 424.0 95.5 434.6 91.0 440.0 C86.5 445.4 85.8 446.3 83.0 450.0 C80.2 453.7 75.5 460.0 74.0 462.0 L74.0 563.3 L725.8 563.3 L725.8 54.0 Z" fill="#0028ff" shape-rendering="crispEdges"/><path d="M630.0 54.0 C628.3 57.5 624.2 68.2 620.0 75.0 C615.8 81.8 610.0 88.8 605.0 95.0 C600.0 101.2 595.0 107.1 590.0 112.5 C585.0 117.9 580.8 122.5 575.0 127.5 C569.2 132.5 561.2 137.5 555.0 142.5 C548.8 147.5 542.5 152.1 537.5 157.5 C532.5 162.9 528.6 168.8 525.0 175.0 C521.4 181.2 517.2 187.5 516.0 195.0 C514.8 202.5 517.0 212.5 517.5 220.0 C518.0 227.5 519.0 233.3 519.0 240.0 C519.0 246.7 518.6 252.2 517.5 260.0 C516.4 267.8 514.6 279.0 512.5 287.0 C510.4 295.0 508.2 301.2 505.0 308.0 C501.8 314.8 498.0 321.0 493.0 328.0 C488.0 335.0 480.5 344.7 475.0 350.0 C469.5 355.3 465.8 357.3 460.0 360.0 C454.2 362.7 447.5 365.2 440.0 366.0 C432.5 366.8 423.3 365.2 415.0 364.5 C406.7 363.8 398.3 362.3 390.0 361.5 C381.7 360.7 373.3 359.9 365.0 359.5 C356.7 359.1 349.2 358.9 340.0 359.0 C330.8 359.1 319.2 359.0 310.0 360.0 C300.8 361.0 293.3 362.5 285.0 365.0 C276.7 367.5 267.5 371.2 260.0 375.0 C252.5 378.8 245.4 384.0 240.0 387.5 C234.6 391.0 231.7 393.1 227.5 396.2 C223.3 399.4 219.2 403.1 215.0 406.2 C210.8 409.4 206.7 412.0 202.5 415.0 C198.3 418.0 194.2 421.3 190.0 424.4 C185.8 427.5 181.7 430.5 177.5 433.8 C173.3 437.0 169.0 440.4 165.0 443.8 C161.0 447.1 156.5 450.6 153.8 453.8 C151.0 456.9 151.9 459.0 148.8 462.5 C145.6 466.0 139.0 470.8 135.0 475.0 C131.0 479.2 128.0 483.3 125.0 487.5 C122.0 491.7 119.6 495.8 117.0 500.0 C114.4 504.2 111.8 508.5 109.4 512.5 C107.0 516.5 105.5 519.6 102.5 523.8 C99.5 527.9 94.6 533.3 91.2 537.5 C87.9 541.7 85.4 545.2 82.5 548.8 C79.6 552.2 75.4 556.9 74.0 558.5 L74.0 563.3 L725.8 563.3 L725.8 54.0 Z" fill="#0082ff" shape-rendering="crispEdges"/><path d="M715.0 54.0 C713.8 57.5 710.4 68.2 707.5 75.0 C704.6 81.8 700.8 88.3 697.5 95.0 C694.2 101.7 690.8 108.3 687.5 115.0 C684.2 121.7 680.8 128.3 677.5 135.0 C674.2 141.7 670.4 148.3 667.5 155.0 C664.6 161.7 662.5 168.3 660.0 175.0 C657.5 181.7 655.4 187.5 652.5 195.0 C649.6 202.5 645.8 212.5 642.5 220.0 C639.2 227.5 636.2 233.3 632.5 240.0 C628.8 246.7 624.6 253.0 620.0 260.0 C615.4 267.0 610.0 274.7 605.0 282.0 C600.0 289.3 594.8 296.8 590.0 304.0 C585.2 311.2 580.5 317.8 576.0 325.0 C571.5 332.2 567.3 339.5 563.0 347.0 C558.7 354.5 554.2 362.8 550.0 370.0 C545.8 377.2 542.1 383.8 537.5 390.0 C532.9 396.2 527.9 402.9 522.5 407.5 C517.1 412.1 511.2 414.6 505.0 417.5 C498.8 420.4 491.7 423.3 485.0 425.0 C478.3 426.7 472.5 427.5 465.0 427.5 C457.5 427.5 448.3 426.1 440.0 425.0 C431.7 423.9 423.3 422.2 415.0 421.0 C406.7 419.8 398.3 419.0 390.0 418.0 C381.7 417.0 373.3 415.5 365.0 415.0 C356.7 414.5 349.2 414.2 340.0 415.0 C330.8 415.8 319.2 417.9 310.0 420.0 C300.8 422.1 293.3 424.2 285.0 427.5 C276.7 430.8 265.8 436.9 260.0 440.0 C254.2 443.1 254.2 443.5 250.0 446.2 C245.8 449.0 240.0 452.7 235.0 456.2 C230.0 459.8 225.0 463.5 220.0 467.5 C215.0 471.5 210.0 475.6 205.0 480.0 C200.0 484.4 195.0 489.1 190.0 493.8 C185.0 498.4 180.0 502.8 175.0 508.0 C170.0 513.2 164.6 519.2 160.0 525.0 C155.4 530.8 150.8 537.9 147.5 542.5 C144.2 547.1 142.4 549.1 140.0 552.5 C137.6 555.9 134.2 561.2 133.0 563.0 L725.8 563.3 L725.8 54.0 Z" fill="#00d2ff" shape-rendering="crispEdges"/><path d="M725.5 242.5 C723.8 245.4 718.8 253.8 715.0 260.0 C711.2 266.2 706.2 273.7 702.5 280.0 C698.8 286.3 695.9 291.8 692.5 298.0 C689.1 304.2 686.6 310.0 682.0 317.0 C677.4 324.0 671.2 332.0 665.0 340.0 C658.8 348.0 650.8 356.7 645.0 365.0 C639.2 373.3 635.0 382.5 630.0 390.0 C625.0 397.5 620.0 403.8 615.0 410.0 C610.0 416.2 605.0 421.7 600.0 427.5 C595.0 433.3 590.8 439.2 585.0 445.0 C579.2 450.8 571.7 457.5 565.0 462.5 C558.3 467.5 551.7 471.4 545.0 475.0 C538.3 478.6 531.7 481.5 525.0 484.0 C518.3 486.5 511.7 488.3 505.0 490.0 C498.3 491.7 491.7 493.0 485.0 494.0 C478.3 495.0 472.5 495.7 465.0 496.0 C457.5 496.3 448.3 496.3 440.0 496.0 C431.7 495.7 423.3 494.8 415.0 494.0 C406.7 493.2 398.3 491.8 390.0 491.0 C381.7 490.2 373.3 489.2 365.0 489.0 C356.7 488.8 349.2 488.1 340.0 489.5 C330.8 490.9 318.3 494.9 310.0 497.5 C301.7 500.1 296.7 501.7 290.0 505.0 C283.3 508.3 276.7 512.9 270.0 517.5 C263.3 522.1 255.8 527.5 250.0 532.5 C244.2 537.5 239.2 542.4 235.0 547.5 C230.8 552.6 226.7 560.4 225.0 563.0 L725.8 563.3 Z" fill="#1effdc" shape-rendering="crispEdges"/><use href="#grid"/><use href="#map"/><use href="#axes"/><use href="#cbar"/><path d="M170.05 24.56 L170.05 41.15 M164.96 24.56 L175.14 24.56 M178.05 34.83 L186.77 34.83 L186.77 33.25 L186.04 31.67 L185.32 30.88 L183.86 30.09 L181.68 30.09 L180.23 30.88 L178.77 32.46 L178.05 34.83 L178.05 36.41 L178.77 38.78 L180.23 40.36 L181.68 41.15 L183.86 41.15 L185.32 40.36 L186.77 38.78 M191.86 30.09 L191.86 41.15 M191.86 33.25 L194.04 30.88 L195.50 30.09 L197.68 30.09 L199.13 30.88 L199.86 33.25 L199.86 41.15 M199.86 33.25 L202.04 30.88 L203.49 30.09 L205.67 30.09 L207.13 30.88 L207.85 33.25 L207.85 41.15 M213.67 30.09 L213.67 46.68 M213.67 32.46 L215.12 30.88 L216.58 30.09 L218.76 30.09 L220.21 30.88 L221.67 32.46 L222.39 34.83 L222.39 36.41 L221.67 38.78 L220.21 40.36 L218.76 41.15 L216.58 41.15 L215.12 40.36 L213.67 38.78 M226.76 34.83 L235.48 34.83 L235.48 33.25 L234.75 31.67 L234.03 30.88 L232.57 30.09 L230.39 30.09 L228.94 30.88 L227.48 32.46 L226.76 34.83 L226.76 36.41 L227.48 38.78 L228.94 40.36 L230.39 41.15 L232.57 41.15 L234.03 40.36 L235.48 38.78 M240.57 30.09 L240.57 41.15 M240.57 34.83 L241.30 32.46 L242.75 30.88 L244.20 30.09 L246.39 30.09 M258.02 30.09 L258.02 41.15 M258.02 32.46 L256.56 30.88 L255.11 30.09 L252.93 30.09 L251.47 30.88 L250.02 32.46 L249.29 34.83 L249.29 36.41 L250.02 38.78 L251.47 40.36 L252.93 41.15 L255.11 41.15 L256.56 40.36 L258.02 38.78 M264.56 24.56 L264.56 37.99 L265.29 40.36 L266.74 41.15 L268.20 41.15 M262.38 30.09 L267.47 30.09 M272.56 30.09 L272.56 37.99 L273.28 40.36 L274.74 41.15 L276.92 41.15 L278.37 40.36 L280.55 37.99 M280.55 30.09 L280.55 41.15 M286.37 30.09 L286.37 41.15 M286.37 34.83 L287.10 32.46 L288.55 30.88 L290.01 30.09 L292.19 30.09 M303.82 30.09 L303.82 41.15 M303.82 32.46 L302.36 30.88 L300.91 30.09 L298.73 30.09 L297.28 30.88 L295.82 32.46 L295.09 34.83 L295.09 36.41 L295.82 38.78 L297.28 40.36 L298.73 41.15 L300.91 41.15 L302.36 40.36 L303.82 38.78 M322.87 24.56 L322.87 41.15 M322.87 24.56 L328.68 41.15 M334.50 24.56 L328.68 41.15 M334.50 24.56 L334.50 41.15 M339.59 24.56 L340.31 25.35 L341.04 24.56 L340.31 23.77 L339.59 24.56 M340.31 30.09 L340.31 41.15 M346.13 30.09 L346.13 41.15 M346.13 33.25 L348.31 30.88 L349.76 30.09 L351.95 30.09 L353.40 30.88 L354.13 33.25 L354.13 41.15 M359.22 24.56 L359.94 25.35 L360.67 24.56 L359.94 23.77 L359.22 24.56 M359.94 30.09 L359.94 41.15 M365.76 30.09 L365.76 41.15 M365.76 33.25 L367.94 30.88 L369.39 30.09 L371.57 30.09 L373.03 30.88 L373.76 33.25 L373.76 41.15 M373.76 33.25 L375.94 30.88 L377.39 30.09 L379.57 30.09 L381.03 30.88 L381.75 33.25 L381.75 41.15 M395.57 30.09 L395.57 41.15 M395.57 32.46 L394.11 30.88 L392.66 30.09 L390.48 30.09 L389.02 30.88 L387.57 32.46 L386.84 34.83 L386.84 36.41 L387.57 38.78 L389.02 40.36 L390.48 41.15 L392.66 41.15 L394.11 40.36 L395.57 38.78 M414.61 28.51 L414.61 27.72 L415.34 26.14 L416.07 25.35 L417.52 24.56 L420.43 24.56 L421.88 25.35 L422.61 26.14 L423.34 27.72 L423.34 29.30 L422.61 30.88 L421.16 33.25 L413.89 41.15 L424.06 41.15 M429.15 30.09 L429.15 41.15 M429.15 33.25 L431.33 30.88 L432.79 30.09 L434.97 30.09 L436.42 30.88 L437.15 33.25 L437.15 41.15 M437.15 33.25 L439.33 30.88 L440.79 30.09 L442.97 30.09 L444.42 30.88 L445.15 33.25 L445.15 41.15 M469.28 21.40 L467.83 22.98 L466.38 25.35 L464.92 28.51 L464.19 32.46 L464.19 35.62 L464.92 39.57 L466.38 42.73 L467.83 45.10 L469.28 46.68 M477.28 30.09 L475.83 30.88 L474.37 32.46 L473.65 34.83 L473.65 36.41 L474.37 38.78 L475.83 40.36 L477.28 41.15 L479.46 41.15 L480.92 40.36 L482.37 38.78 L483.10 36.41 L483.10 34.83 L482.37 32.46 L480.92 30.88 L479.46 30.09 L477.28 30.09 M498.36 28.51 L497.64 26.93 L496.18 25.35 L494.73 24.56 L491.82 24.56 L490.37 25.35 L488.91 26.93 L488.19 28.51 L487.46 30.88 L487.46 34.83 L488.19 37.20 L488.91 38.78 L490.37 40.36 L491.82 41.15 L494.73 41.15 L496.18 40.36 L497.64 38.78 L498.36 37.20 M502.73 21.40 L504.18 22.98 L505.63 25.35 L507.09 28.51 L507.81 32.46 L507.81 35.62 L507.09 39.57 L505.63 42.73 L504.18 45.10 L502.73 46.68 M532.68 24.56 L532.68 37.20 L531.95 39.57 L531.22 40.36 L529.77 41.15 L528.32 41.15 L526.86 40.36 L526.13 39.57 L525.41 37.20 L525.41 35.62 M546.49 30.09 L546.49 41.15 M546.49 32.46 L545.04 30.88 L543.58 30.09 L541.40 30.09 L539.95 30.88 L538.49 32.46 L537.77 34.83 L537.77 36.41 L538.49 38.78 L539.95 40.36 L541.40 41.15 L543.58 41.15 L545.04 40.36 L546.49 38.78 M552.31 30.09 L552.31 41.15 M552.31 33.25 L554.49 30.88 L555.94 30.09 L558.12 30.09 L559.58 30.88 L560.30 33.25 L560.30 41.15 M577.75 21.40 L564.67 46.68 M582.11 28.51 L582.11 27.72 L582.84 26.14 L583.57 25.35 L585.02 24.56 L587.93 24.56 L589.38 25.35 L590.11 26.14 L590.84 27.72 L590.84 29.30 L590.11 30.88 L588.66 33.25 L581.39 41.15 L591.56 41.15 M600.29 24.56 L598.11 25.35 L596.65 27.72 L595.93 31.67 L595.93 34.04 L596.65 37.99 L598.11 40.36 L600.29 41.15 L601.74 41.15 L603.92 40.36 L605.38 37.99 L606.10 34.04 L606.10 31.67 L605.38 27.72 L603.92 25.35 L601.74 24.56 L600.29 24.56 M611.19 28.51 L611.19 27.72 L611.92 26.14 L612.65 25.35 L614.10 24.56 L617.01 24.56 L618.46 25.35 L619.19 26.14 L619.92 27.72 L619.92 29.30 L619.19 30.88 L617.74 33.25 L610.47 41.15 L620.64 41.15 M625.73 28.51 L625.73 27.72 L626.46 26.14 L627.19 25.35 L628.64 24.56 L631.55 24.56 L633.00 25.35 L633.73 26.14 L634.46 27.72 L634.46 29.30 L633.73 30.88 L632.28 33.25 L625.01 41.15 L635.18 41.15" fill="none" stroke="#000" stroke-width="1.6" stroke-linecap="round" stroke-linejoin="round"/><path d="M619.96 593.96 L619.96 593.52 L620.40 592.64 L620.84 592.20 L621.73 591.76 L623.49 591.76 L624.37 592.20 L624.81 592.64 L625.25 593.52 L625.25 594.40 L624.81 595.28 L623.93 596.60 L619.52 601.00 L625.69 601.00 M633.63 591.76 L629.22 591.76 L628.78 595.72 L629.22 595.28 L630.54 594.84 L631.86 594.84 L633.19 595.28 L634.07 596.16 L634.51 597.48 L634.51 598.36 L634.07 599.68 L633.19 600.56 L631.86 601.00 L630.54 601.00 L629.22 600.56 L628.78 600.12 L628.34 599.24 M644.65 591.76 L644.65 601.00 M644.65 591.76 L648.17 601.00 M651.70 591.76 L648.17 601.00 M651.70 591.76 L651.70 601.00 M654.79 597.48 L660.08 597.48 L660.08 596.60 L659.64 595.72 L659.19 595.28 L658.31 594.84 L656.99 594.84 L656.11 595.28 L655.23 596.16 L654.79 597.48 L654.79 598.36 L655.23 599.68 L656.11 600.56 L656.99 601.00 L658.31 601.00 L659.19 600.56 L660.08 599.68 M663.16 594.84 L663.16 601.00 M663.16 596.60 L664.48 595.28 L665.37 594.84 L666.69 594.84 L667.57 595.28 L668.01 596.60 L668.01 601.00 M668.01 596.60 L669.33 595.28 L670.21 594.84 L671.54 594.84 L672.42 595.28 L672.86 596.60 L672.86 601.00 M676.39 591.76 L676.39 601.00 M676.39 596.16 L677.27 595.28 L678.15 594.84 L679.47 594.84 L680.35 595.28 L681.23 596.16 L681.68 597.48 L681.68 598.36 L681.23 599.68 L680.35 600.56 L679.47 601.00 L678.15 601.00 L677.27 600.56 L676.39 599.68 M684.76 594.84 L684.76 601.00 M684.76 597.48 L685.20 596.16 L686.08 595.28 L686.96 594.84 L688.29 594.84 M692.25 594.84 L691.37 595.28 L690.49 596.16 L690.05 597.48 L690.05 598.36 L690.49 599.68 L691.37 600.56 L692.25 601.00 L693.58 601.00 L694.46 600.56 L695.34 599.68 L695.78 598.36 L695.78 597.48 L695.34 596.16 L694.46 595.28 L693.58 594.84 L692.25 594.84 M703.27 596.16 L702.83 595.28 L701.51 594.84 L700.19 594.84 L698.87 595.28 L698.43 596.16 L698.87 597.04 L699.75 597.48 L701.95 597.92 L702.83 598.36 L703.27 599.24 L703.27 599.68 L702.83 600.56 L701.51 601.00 L700.19 601.00 L698.87 600.56 L698.43 599.68" fill="none" stroke="#000" stroke-width="1.5" stroke-linecap="round" stroke-linejoin="round"/></g><g transform="translate(0,1236)"><rect x="74.0" y="54.0" width="651.8" height="509.29999999999995" fill="#0a00f0"/><path d="M74.0 54.0 L112.5 54.0 L100.0 85.0 L87.5 102.5 L74.0 120.0  Z" fill="#0028ff" shape-rendering="crispEdges"/><path d="M247.5 54.0 C248.3 59.2 251.2 74.0 252.5 85.0 C253.8 96.0 254.8 109.2 255.0 120.0 C255.2 130.8 254.8 139.2 254.0 150.0 C253.2 160.8 251.7 174.2 250.0 185.0 C248.3 195.8 246.5 205.0 244.0 215.0 C241.5 225.0 238.3 235.8 235.0 245.0 C231.7 254.2 227.8 261.7 224.0 270.0 C220.2 278.3 215.5 288.0 212.0 295.0 C208.5 302.0 206.7 306.2 203.0 312.0 C199.3 317.8 195.5 323.7 190.0 330.0 C184.5 336.3 176.7 343.3 170.0 350.0 C163.3 356.7 156.7 363.8 150.0 370.0 C143.3 376.2 136.7 381.7 130.0 387.5 C123.3 393.3 116.7 398.8 110.0 405.0 C103.3 411.2 96.0 418.8 90.0 425.0 C84.0 431.2 76.7 439.6 74.0 442.5 L74.0 563.3 L725.8 563.3 L725.8 54.0 Z" fill="#0028ff" shape-rendering="crispEdges"/><path d="M614.0 54.0 C612.5 56.7 608.2 64.4 605.0 70.0 C601.8 75.6 600.0 82.1 595.0 87.5 C590.0 92.9 581.7 97.5 575.0 102.5 C568.3 107.5 562.5 112.5 555.0 117.5 C547.5 122.5 538.3 127.9 530.0 132.5 C521.7 137.1 513.3 141.4 505.0 145.0 C496.7 148.6 486.7 151.7 480.0 154.0 C473.3 156.3 467.5 158.2 465.0 159.0 L465.0 159.0 C465.2 161.7 465.6 169.4 466.0 175.0 C466.4 180.6 465.6 187.1 467.5 192.5 C469.4 197.9 474.2 202.5 477.5 207.5 C480.8 212.5 484.6 217.1 487.5 222.5 C490.4 227.9 492.9 233.8 495.0 240.0 C497.1 246.2 499.3 253.3 500.0 260.0 C500.7 266.7 499.8 273.7 499.0 280.0 C498.2 286.3 496.5 292.7 495.0 298.0 C493.5 303.3 492.5 307.1 490.0 312.0 C487.5 316.9 484.2 322.4 480.0 327.5 C475.8 332.6 470.8 338.6 465.0 342.5 C459.2 346.4 451.7 349.1 445.0 351.0 C438.3 352.9 432.5 353.8 425.0 354.0 C417.5 354.2 409.2 353.2 400.0 352.5 C390.8 351.8 380.0 350.6 370.0 350.0 C360.0 349.4 350.0 348.8 340.0 349.0 C330.0 349.2 319.2 350.0 310.0 351.0 C300.8 352.0 293.3 353.1 285.0 355.0 C276.7 356.9 266.7 359.6 260.0 362.5 C253.3 365.4 250.0 369.0 245.0 372.5 C240.0 376.0 235.0 380.0 230.0 383.8 C225.0 387.5 220.4 391.1 215.0 395.0 C209.6 398.9 202.5 403.2 197.5 407.0 C192.5 410.8 189.6 414.0 185.0 418.0 C180.4 422.0 175.2 426.5 170.0 431.0 C164.8 435.5 157.7 441.5 153.8 445.0 C149.8 448.5 149.4 449.1 146.2 452.0 C143.1 454.9 138.5 458.7 135.0 462.5 C131.5 466.3 128.3 470.8 125.0 475.0 C121.7 479.2 118.1 483.3 115.0 487.5 C111.9 491.7 109.2 495.4 106.2 500.0 C103.3 504.6 100.4 510.2 97.5 515.0 C94.6 519.8 91.5 524.8 88.8 528.8 C86.0 532.7 83.7 536.0 81.2 538.8 C78.8 541.5 75.2 544.4 74.0 545.5 L74.0 563.3 L725.8 563.3 L725.8 54.0 Z" fill="#0082ff" shape-rendering="crispEdges"/><path d="M707.5 54.0 C705.8 57.5 701.2 67.3 697.5 75.0 C693.8 82.7 689.2 91.7 685.0 100.0 C680.8 108.3 676.2 117.5 672.5 125.0 C668.8 132.5 665.8 138.3 662.5 145.0 C659.2 151.7 655.8 157.5 652.5 165.0 C649.2 172.5 646.2 181.7 642.5 190.0 C638.8 198.3 634.2 206.7 630.0 215.0 C625.8 223.3 622.1 232.5 617.5 240.0 C612.9 247.5 607.4 253.0 602.5 260.0 C597.6 267.0 592.6 274.8 588.0 282.0 C583.4 289.2 579.2 295.8 575.0 303.0 C570.8 310.2 567.2 317.2 563.0 325.0 C558.8 332.8 554.2 342.5 550.0 350.0 C545.8 357.5 542.1 363.3 537.5 370.0 C532.9 376.7 527.5 384.2 522.5 390.0 C517.5 395.8 512.9 401.0 507.5 405.0 C502.1 409.0 496.2 411.7 490.0 414.0 C483.8 416.3 477.5 418.0 470.0 419.0 C462.5 420.0 453.3 420.5 445.0 420.0 C436.7 419.5 429.2 417.4 420.0 416.0 C410.8 414.6 399.2 412.9 390.0 411.5 C380.8 410.1 373.3 408.3 365.0 407.5 C356.7 406.7 345.8 406.5 340.0 406.5 C334.2 406.5 336.7 406.5 330.0 407.5 C323.3 408.5 309.2 410.5 300.0 412.5 C290.8 414.5 281.7 417.1 275.0 419.5 C268.3 421.9 265.5 423.9 260.0 427.0 C254.5 430.1 247.8 434.2 242.0 438.0 C236.2 441.8 232.0 444.7 225.0 450.0 C218.0 455.3 208.3 462.9 200.0 470.0 C191.7 477.1 181.7 486.0 175.0 492.5 C168.3 499.0 164.2 503.5 160.0 508.8 C155.8 514.0 153.3 519.0 150.0 523.8 C146.7 528.5 143.3 533.1 140.0 537.5 C136.7 541.9 133.2 545.8 130.0 550.0 C126.8 554.2 122.2 560.8 120.6 563.0 L725.8 563.3 L725.8 54.0 Z" fill="#00d2ff" shape-rendering="crispEdges"/><path d="M725.5 180.0 C724.2 182.5 720.1 189.2 717.5 195.0 C714.9 200.8 712.5 208.3 710.0 215.0 C707.5 221.7 705.4 228.3 702.5 235.0 C699.6 241.7 695.8 248.3 692.5 255.0 C689.2 261.7 686.1 268.7 682.5 275.0 C678.9 281.3 675.2 286.8 671.0 293.0 C666.8 299.2 662.2 305.0 657.0 312.0 C651.8 319.0 645.3 328.2 640.0 335.0 C634.7 341.8 629.6 346.2 625.0 352.5 C620.4 358.8 616.7 365.4 612.5 372.5 C608.3 379.6 604.6 387.9 600.0 395.0 C595.4 402.1 590.4 408.3 585.0 415.0 C579.6 421.7 573.3 429.2 567.5 435.0 C561.7 440.8 555.8 445.4 550.0 450.0 C544.2 454.6 539.2 458.8 532.5 462.5 C525.8 466.2 517.9 470.0 510.0 472.5 C502.1 475.0 493.3 476.4 485.0 477.5 C476.7 478.6 468.3 479.0 460.0 479.0 C451.7 479.0 443.3 478.3 435.0 477.5 C426.7 476.7 418.3 475.0 410.0 474.0 C401.7 473.0 393.3 472.2 385.0 471.5 C376.7 470.8 368.3 469.8 360.0 470.0 C351.7 470.2 343.3 471.2 335.0 472.5 C326.7 473.8 318.3 475.2 310.0 477.5 C301.7 479.8 292.5 483.1 285.0 486.0 C277.5 488.9 271.7 491.4 265.0 495.0 C258.3 498.6 251.7 502.5 245.0 507.5 C238.3 512.5 231.2 518.8 225.0 525.0 C218.8 531.2 212.5 538.7 207.5 545.0 C202.5 551.3 197.1 560.0 195.0 563.0 L725.8 563.3 Z" fill="#1effdc" shape-rendering="crispEdges"/><use href="#grid"/><use href="#map"/><use href="#axes"/><use href="#cbar"/><path d="M170.78 24.56 L170.78 41.15 M165.69 24.56 L175.87 24.56 M178.77 34.83 L187.50 34.83 L187.50 33.25 L186.77 31.67 L186.04 30.88 L184.59 30.09 L182.41 30.09 L180.96 30.88 L179.50 32.46 L178.77 34.83 L178.77 36.41 L179.50 38.78 L180.96 40.36 L182.41 41.15 L184.59 41.15 L186.04 40.36 L187.50 38.78 M192.59 30.09 L192.59 41.15 M192.59 33.25 L194.77 30.88 L196.22 30.09 L198.40 30.09 L199.86 30.88 L200.58 33.25 L200.58 41.15 M200.58 33.25 L202.77 30.88 L204.22 30.09 L206.40 30.09 L207.85 30.88 L208.58 33.25 L208.58 41.15 M214.40 30.09 L214.40 46.68 M214.40 32.46 L215.85 30.88 L217.31 30.09 L219.49 30.09 L220.94 30.88 L222.39 32.46 L223.12 34.83 L223.12 36.41 L222.39 38.78 L220.94 40.36 L219.49 41.15 L217.31 41.15 L215.85 40.36 L214.40 38.78 M227.48 34.83 L236.21 34.83 L236.21 33.25 L235.48 31.67 L234.75 30.88 L233.30 30.09 L231.12 30.09 L229.66 30.88 L228.21 32.46 L227.48 34.83 L227.48 36.41 L228.21 38.78 L229.66 40.36 L231.12 41.15 L233.30 41.15 L234.75 40.36 L236.21 38.78 M241.30 30.09 L241.30 41.15 M241.30 34.83 L242.02 32.46 L243.48 30.88 L244.93 30.09 L247.11 30.09 M258.74 30.09 L258.74 41.15 M258.74 32.46 L257.29 30.88 L255.84 30.09 L253.66 30.09 L252.20 30.88 L250.75 32.46 L250.02 34.83 L250.02 36.41 L250.75 38.78 L252.20 40.36 L253.66 41.15 L255.84 41.15 L257.29 40.36 L258.74 38.78 M265.29 24.56 L265.29 37.99 L266.01 40.36 L267.47 41.15 L268.92 41.15 M263.11 30.09 L268.20 30.09 M273.28 30.09 L273.28 37.99 L274.01 40.36 L275.47 41.15 L277.65 41.15 L279.10 40.36 L281.28 37.99 M281.28 30.09 L281.28 41.15 M287.10 30.09 L287.10 41.15 M287.10 34.83 L287.82 32.46 L289.28 30.88 L290.73 30.09 L292.91 30.09 M304.55 30.09 L304.55 41.15 M304.55 32.46 L303.09 30.88 L301.64 30.09 L299.46 30.09 L298.00 30.88 L296.55 32.46 L295.82 34.83 L295.82 36.41 L296.55 38.78 L298.00 40.36 L299.46 41.15 L301.64 41.15 L303.09 40.36 L304.55 38.78 M323.59 24.56 L323.59 41.15 M323.59 24.56 L329.41 41.15 M335.22 24.56 L329.41 41.15 M335.22 24.56 L335.22 41.15 M340.31 24.56 L341.04 25.35 L341.77 24.56 L341.04 23.77 L340.31 24.56 M341.04 30.09 L341.04 41.15 M346.86 30.09 L346.86 41.15 M346.86 33.25 L349.04 30.88 L350.49 30.09 L352.67 30.09 L354.13 30.88 L354.85 33.25 L354.85 41.15 M359.94 24.56 L360.67 25.35 L361.40 24.56 L360.67 23.77 L359.94 24.56 M360.67 30.09 L360.67 41.15 M366.49 30.09 L366.49 41.15 M366.49 33.25 L368.67 30.88 L370.12 30.09 L372.30 30.09 L373.76 30.88 L374.48 33.25 L374.48 41.15 M374.48 33.25 L376.66 30.88 L378.12 30.09 L380.30 30.09 L381.75 30.88 L382.48 33.25 L382.48 41.15 M396.29 30.09 L396.29 41.15 M396.29 32.46 L394.84 30.88 L393.38 30.09 L391.20 30.09 L389.75 30.88 L388.30 32.46 L387.57 34.83 L387.57 36.41 L388.30 38.78 L389.75 40.36 L391.20 41.15 L393.38 41.15 L394.84 40.36 L396.29 38.78 M415.34 28.51 L415.34 27.72 L416.07 26.14 L416.79 25.35 L418.25 24.56 L421.16 24.56 L422.61 25.35 L423.34 26.14 L424.06 27.72 L424.06 29.30 L423.34 30.88 L421.88 33.25 L414.61 41.15 L424.79 41.15 M429.88 30.09 L429.88 41.15 M429.88 33.25 L432.06 30.88 L433.51 30.09 L435.70 30.09 L437.15 30.88 L437.88 33.25 L437.88 41.15 M437.88 33.25 L440.06 30.88 L441.51 30.09 L443.69 30.09 L445.15 30.88 L445.87 33.25 L445.87 41.15 M470.01 21.40 L468.56 22.98 L467.10 25.35 L465.65 28.51 L464.92 32.46 L464.92 35.62 L465.65 39.57 L467.10 42.73 L468.56 45.10 L470.01 46.68 M478.01 30.09 L476.55 30.88 L475.10 32.46 L474.37 34.83 L474.37 36.41 L475.10 38.78 L476.55 40.36 L478.01 41.15 L480.19 41.15 L481.64 40.36 L483.10 38.78 L483.82 36.41 L483.82 34.83 L483.10 32.46 L481.64 30.88 L480.19 30.09 L478.01 30.09 M499.09 28.51 L498.36 26.93 L496.91 25.35 L495.46 24.56 L492.55 24.56 L491.09 25.35 L489.64 26.93 L488.91 28.51 L488.19 30.88 L488.19 34.83 L488.91 37.20 L489.64 38.78 L491.09 40.36 L492.55 41.15 L495.46 41.15 L496.91 40.36 L498.36 38.78 L499.09 37.20 M503.45 21.40 L504.91 22.98 L506.36 25.35 L507.81 28.51 L508.54 32.46 L508.54 35.62 L507.81 39.57 L506.36 42.73 L504.91 45.10 L503.45 46.68 M527.59 24.56 L527.59 41.15 M527.59 24.56 L537.04 24.56 M527.59 32.46 L533.40 32.46 M539.95 34.83 L548.67 34.83 L548.67 33.25 L547.94 31.67 L547.22 30.88 L545.76 30.09 L543.58 30.09 L542.13 30.88 L540.67 32.46 L539.95 34.83 L539.95 36.41 L540.67 38.78 L542.13 40.36 L543.58 41.15 L545.76 41.15 L547.22 40.36 L548.67 38.78 M552.31 30.09 L556.67 41.15 M561.03 30.09 L556.67 41.15 M577.02 21.40 L563.94 46.68 M581.39 28.51 L581.39 27.72 L582.11 26.14 L582.84 25.35 L584.29 24.56 L587.20 24.56 L588.66 25.35 L589.38 26.14 L590.11 27.72 L590.11 29.30 L589.38 30.88 L587.93 33.25 L580.66 41.15 L590.84 41.15 M599.56 24.56 L597.38 25.35 L595.93 27.72 L595.20 31.67 L595.20 34.04 L595.93 37.99 L597.38 40.36 L599.56 41.15 L601.02 41.15 L603.20 40.36 L604.65 37.99 L605.38 34.04 L605.38 31.67 L604.65 27.72 L603.20 25.35 L601.02 24.56 L599.56 24.56 M610.47 28.51 L610.47 27.72 L611.19 26.14 L611.92 25.35 L613.37 24.56 L616.28 24.56 L617.74 25.35 L618.46 26.14 L619.19 27.72 L619.19 29.30 L618.46 30.88 L617.01 33.25 L609.74 41.15 L619.92 41.15 M625.01 28.51 L625.01 27.72 L625.73 26.14 L626.46 25.35 L627.91 24.56 L630.82 24.56 L632.28 25.35 L633.00 26.14 L633.73 27.72 L633.73 29.30 L633.00 30.88 L631.55 33.25 L624.28 41.15 L634.46 41.15" fill="none" stroke="#000" stroke-width="1.6" stroke-linecap="round" stroke-linejoin="round"/><path d="M619.96 593.96 L619.96 593.52 L620.40 592.64 L620.84 592.20 L621.73 591.76 L623.49 591.76 L624.37 592.20 L624.81 592.64 L625.25 593.52 L625.25 594.40 L624.81 595.28 L623.93 596.60 L619.52 601.00 L625.69 601.00 M633.63 591.76 L629.22 591.76 L628.78 595.72 L629.22 595.28 L630.54 594.84 L631.86 594.84 L633.19 595.28 L634.07 596.16 L634.51 597.48 L634.51 598.36 L634.07 599.68 L633.19 600.56 L631.86 601.00 L630.54 601.00 L629.22 600.56 L628.78 600.12 L628.34 599.24 M644.65 591.76 L644.65 601.00 M644.65 591.76 L648.17 601.00 M651.70 591.76 L648.17 601.00 M651.70 591.76 L651.70 601.00 M654.79 597.48 L660.08 597.48 L660.08 596.60 L659.64 595.72 L659.19 595.28 L658.31 594.84 L656.99 594.84 L656.11 595.28 L655.23 596.16 L654.79 597.48 L654.79 598.36 L655.23 599.68 L656.11 600.56 L656.99 601.00 L658.31 601.00 L659.19 600.56 L660.08 599.68 M663.16 594.84 L663.16 601.00 M663.16 596.60 L664.48 595.28 L665.37 594.84 L666.69 594.84 L667.57 595.28 L668.01 596.60 L668.01 601.00 M668.01 596.60 L669.33 595.28 L670.21 594.84 L671.54 594.84 L672.42 595.28 L672.86 596.60 L672.86 601.00 M676.39 591.76 L676.39 601.00 M676.39 596.16 L677.27 595.28 L678.15 594.84 L679.47 594.84 L680.35 595.28 L681.23 596.16 L681.68 597.48 L681.68 598.36 L681.23 599.68 L680.35 600.56 L679.47 601.00 L678.15 601.00 L677.27 600.56 L676.39 599.68 M684.76 594.84 L684.76 601.00 M684.76 597.48 L685.20 596.16 L686.08 595.28 L686.96 594.84 L688.29 594.84 M692.25 594.84 L691.37 595.28 L690.49 596.16 L690.05 597.48 L690.05 598.36 L690.49 599.68 L691.37 600.56 L692.25 601.00 L693.58 601.00 L694.46 600.56 L695.34 599.68 L695.78 598.36 L695.78 597.48 L695.34 596.16 L694.46 595.28 L693.58 594.84 L692.25 594.84 M703.27 596.16 L702.83 595.28 L701.51 594.84 L700.19 594.84 L698.87 595.28 L698.43 596.16 L698.87 597.04 L699.75 597.48 L701.95 597.92 L702.83 598.36 L703.27 599.24 L703.27 599.68 L702.83 600.56 L701.51 601.00 L700.19 601.00 L698.87 600.56 L698.43 599.68" fill="none" stroke="#000" stroke-width="1.5" stroke-linecap="round" stroke-linejoin="round"/></g></svg>
</body></html>
